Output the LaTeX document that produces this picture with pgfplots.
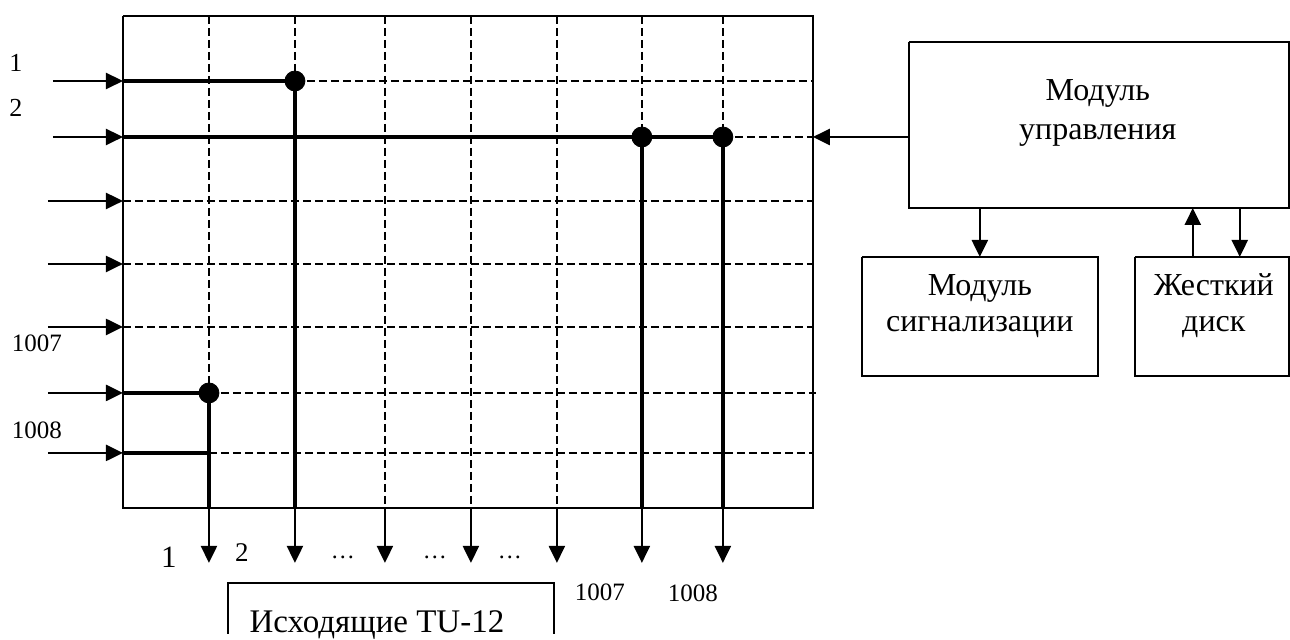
\documentclass[border=0pt]{standalone}
\usepackage{pgfplots}
\pgfplotsset{compat=1.18}
\usepackage{fontspec}
\setmainfont{Liberation Serif}
\usetikzlibrary{arrows.meta}
\begin{document}
\begin{tikzpicture}[
  dsh/.style={black, line width=1pt, dash pattern=on 4pt off 2pt},
  thk/.style={black, line width=2.3pt},
  arr/.style={black, line width=1.15pt, -{Triangle[length=8.5pt,width=8pt]}},
  bx/.style={black, line width=1.25pt},
]
\begin{axis}[scale only axis, width=645pt, height=317pt,
  xmin=0, xmax=1290, ymin=0, ymax=634, y dir=reverse,
  hide axis, clip=false]
% extent
\addplot[draw=none, forget plot] coordinates {(0,0) (1290,634)};
% horizontal dashed
\addplot[dsh] coordinates {(295,81) (813,81)};
\addplot[dsh] coordinates {(723,137) (813,137)};
\addplot[dsh] coordinates {(123,201) (813,201)};
\addplot[dsh] coordinates {(123,264) (813,264)};
\addplot[dsh] coordinates {(123,327) (813,327)};
\addplot[dsh] coordinates {(209,393) (816,393)};
\addplot[dsh] coordinates {(209,453) (813,453)};
% vertical dashed
\addplot[dsh] coordinates {(209,16) (209,393)};
\addplot[dsh] coordinates {(295,16) (295,81)};
\addplot[dsh] coordinates {(385,16) (385,508)};
\addplot[dsh] coordinates {(471,16) (471,508)};
\addplot[dsh] coordinates {(557,16) (557,508)};
\addplot[dsh] coordinates {(642,16) (642,137)};
\addplot[dsh] coordinates {(723,16) (723,137)};
% frame
\addplot[bx] coordinates {(123,16) (813,16) (813,508) (123,508) (123,16)};
% thick connections
\addplot[thk] coordinates {(123,81) (295,81) (295,508)};
\addplot[thk] coordinates {(123,137) (723,137) (723,508)};
\addplot[thk] coordinates {(642,137) (642,508)};
\addplot[thk] coordinates {(123,393) (209,393) (209,508)};
\addplot[thk] coordinates {(123,453) (209,453)};
% input arrows
\addplot[arr] coordinates {(53,81) (123,81)};
\addplot[arr] coordinates {(53,137) (123,137)};
\addplot[arr] coordinates {(48,201) (123,201)};
\addplot[arr] coordinates {(48,264) (123,264)};
\addplot[arr] coordinates {(48,327) (123,327)};
\addplot[arr] coordinates {(48,393) (123,393)};
\addplot[arr] coordinates {(48,453) (123,453)};
% output arrows
\addplot[arr] coordinates {(209,508) (209,563)};
\addplot[arr] coordinates {(295,508) (295,563)};
\addplot[arr] coordinates {(385,508) (385,563)};
\addplot[arr] coordinates {(471,508) (471,563)};
\addplot[arr] coordinates {(557,508) (557,563)};
\addplot[arr] coordinates {(642,508) (642,563)};
\addplot[arr] coordinates {(723,508) (723,563)};
% dots
\addplot[only marks, mark=*, mark size=5pt, black] coordinates {(295,81) (642,137) (723,137) (209,393)};
% right side
\addplot[arr] coordinates {(909,137) (813,137)};
\addplot[bx] coordinates {(909,42) (1289,42) (1289,208) (909,208) (909,42)};
\addplot[bx] coordinates {(862,257) (1098,257) (1098,376) (862,376) (862,257)};
\addplot[bx] coordinates {(1135,257) (1289,257) (1289,376) (1135,376) (1135,257)};
\addplot[arr] coordinates {(980,208) (980,257)};
\addplot[arr] coordinates {(1193,257) (1193,208)};
\addplot[arr] coordinates {(1240,208) (1240,257)};
% bottom box
\addplot[bx] coordinates {(228,634) (228,583) (554,583) (554,634)};
% labels
\node[font=\fontsize{13}{15}\selectfont] at (axis cs:16,63) {1};
\node[font=\fontsize{13}{15}\selectfont] at (axis cs:16,108) {2};
\node[font=\fontsize{12.5}{14}\selectfont] at (axis cs:37,343) {1007};
\node[font=\fontsize{12.5}{14}\selectfont] at (axis cs:37,430) {1008};
\node[font=\fontsize{15.5}{17}\selectfont] at (axis cs:169,557) {1};
\node[font=\fontsize{13.5}{15}\selectfont] at (axis cs:242,553) {2};
\node[font=\fontsize{12}{14}\selectfont] at (axis cs:343,558) {\ldots};
\node[font=\fontsize{12}{14}\selectfont] at (axis cs:435,558) {\ldots};
\node[font=\fontsize{12}{14}\selectfont] at (axis cs:510,558) {\ldots};
\node[font=\fontsize{12.5}{14}\selectfont] at (axis cs:600,592) {1007};
\node[font=\fontsize{12.5}{14}\selectfont] at (axis cs:693,593) {1008};
\node[font=\fontsize{16.5}{18}\selectfont, anchor=base, inner sep=0pt] at (axis cs:377,633) {Исходящие TU-12};
\node[font=\fontsize{16}{19.5}\selectfont, align=center] at (axis cs:1098,113) {Модуль\\управления};
\node[font=\fontsize{16}{18}\selectfont, align=center] at (axis cs:980,306) {Модуль\\сигнализации};
\node[font=\fontsize{16}{18}\selectfont, align=center] at (axis cs:1214,306) {Жесткий\\диск};
\end{axis}
\end{tikzpicture}
\end{document}
